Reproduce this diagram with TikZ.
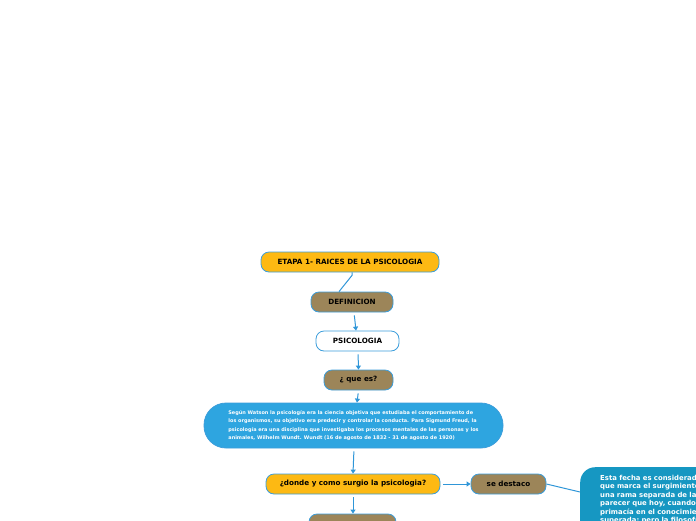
\documentclass[tikz,border=0pt]{standalone}
\usepackage{fontspec}
\setmainfont{DejaVu Sans}
\usetikzlibrary{arrows.meta}
\definecolor{orng}{HTML}{FDB913}
\definecolor{brwn}{HTML}{9C8559}
\definecolor{bord}{HTML}{3B9DDB}
\definecolor{lnk}{HTML}{2F96D8}
\definecolor{bluebox}{HTML}{2EA5E0}
\definecolor{tealbox}{HTML}{1697C2}
\begin{document}
\begin{tikzpicture}[x=1pt,y=-1pt,
  box/.style={draw=bord, line width=0.8pt, rounded corners=8pt, minimum height=20pt, inner sep=0pt, font=\fontsize{7.2}{8}\selectfont\bfseries},
  conn/.style={draw=lnk, line width=1pt},
  arr/.style={conn, shorten <=3pt, -{Triangle[width=5pt,length=4pt]}}]
\useasboundingbox (0,0) rectangle (696,520);
\clip (0,0) rectangle (696,520);
\node[box, fill=orng, minimum width=178pt] (etapa) at (350,262) {ETAPA 1- RAICES DE LA PSICOLOGIA};
\node[box, fill=brwn, minimum width=82pt] (defi) at (352,302) {DEFINICION};
\node[box, fill=white, minimum width=83pt] (psico) at (357.5,341) {PSICOLOGIA};
\node[box, fill=brwn, minimum width=69pt] (quees) at (358.5,380) {¿ que es?};
\node[box, fill=bluebox, minimum width=299pt, minimum height=45pt, rounded corners=22pt, text=white, align=left, font=\fontsize{4.95}{8.4}\selectfont\bfseries] (watson) at (353.5,425.5) {Según Watson la psicología era la ciencia objetiva que estudiaba el comportamiento de\\los organismos, su objetivo era predecir y controlar la conducta. Para Sigmund Freud, la\\psicología era una disciplina que investigaba los procesos mentales de las personas y los\\animales, Wilhelm Wundt. Wundt (16 de agosto de 1832 - 31 de agosto de 1920)};
\node[box, fill=orng, minimum width=174pt] (donde) at (353,484) {¿donde y como surgio la psicologia?};
\node[box, fill=brwn, minimum width=75pt] (sedest) at (508.5,484) {se destaco};
\node[box, fill=brwn, minimum width=87pt] (next) at (352.5,524) {};
\node[anchor=north west, fill=tealbox, rounded corners=15pt, text=white, align=left, text width=140pt, inner xsep=20pt, inner ysep=8pt, font=\fontsize{6.9}{8.5}\selectfont\bfseries] (fecha) at (580,467) {Esta fecha es considerada\\que marca el surgimiento\\una rama separada de la\\parecer que hoy, cuando\\primacía en el conocimiento\\superada; pero la filosofía\\\mbox{}\\\mbox{}};
\coordinate (fin) at (580,492);
\draw[conn] ([xshift=2pt]etapa.south) -- ++(0,3) -- ([xshift=-13pt]defi.north);
\draw[arr] ([xshift=2pt]defi.south) -- ([xshift=-1.5pt]psico.north);
\draw[arr] ([xshift=0.5pt]psico.south) -- (quees.north);
\draw[arr] (quees.south) -- ([xshift=3.5pt]watson.north);
\draw[arr] ([xshift=0.5pt]watson.south) -- (donde.north);
\draw[arr] (donde.east) -- (sedest.west);
\draw[arr] (donde.south) -- ([xshift=0.5pt]next.north);
\draw[conn] (sedest.east) -- (fin);
\end{tikzpicture}
\end{document}
